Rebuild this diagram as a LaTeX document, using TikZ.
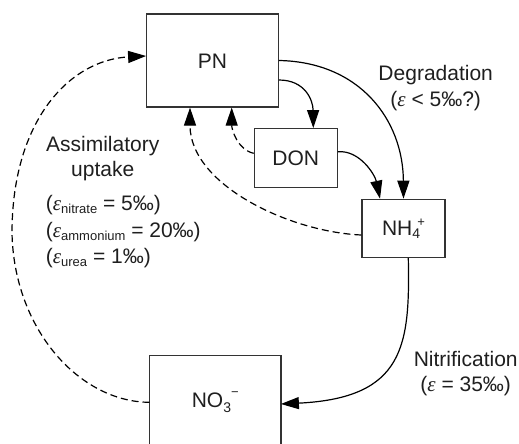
\documentclass[tikz,border=0pt]{standalone}
\usepackage{fontspec}
\setmainfont{Liberation Sans}
\newfontfamily\epsfam{Liberation Serif}
\usetikzlibrary{arrows.meta}
\newcommand\myeps{{\epsfam\itshape ε}}
\newcommand\subtxt[1]{\raisebox{-3.5pt}{\fontsize{13}{13}\selectfont #1}}
\begin{document}
\begin{tikzpicture}[x=1pt,y=-1pt,
  every node/.style={font=\fontsize{21}{25}\selectfont, text=black!88},
  box/.style={draw=black!80, line width=1.2pt, inner sep=0pt, text height=15pt, text depth=0pt},
  openbox/.style={inner sep=0pt, text height=15pt, text depth=0pt},
  boxline/.style={draw=black!80, line width=1.2pt},
  flow/.style={line width=1.2pt, -{Triangle[length=18pt,width=12pt]}},
  uptake/.style={flow, dash pattern=on 7pt off 4pt},
  lbl/.style={anchor=base, inner sep=0pt}]
\useasboundingbox (0,0) rectangle (519,444);
\clip (0,0) rectangle (519,444);
% boxes
\node[box, minimum width=131.6pt, minimum height=93pt] (PN) at (212.5,60.5) {PN};
\node[box, minimum width=83pt, minimum height=58.6pt] (DON) at (295.8,158) {DON};
\node[box, minimum width=83pt, minimum height=58pt] (NH4) at (403.5,228.3)
  {NH\rlap{\raisebox{-3pt}{\fontsize{14}{14}\selectfont 4}}\kern5pt\raisebox{9pt}{\fontsize{13}{13}\selectfont +}};
\node[openbox, minimum width=131pt, minimum height=87.6pt] (no3) at (215.2,399.8)
  {NO\raisebox{-5pt}{\fontsize{14}{14}\selectfont 3}\raisebox{11pt}{\fontsize{13}{13}\selectfont −}};
\draw[boxline] ([yshift=-40pt]no3.south west) -- (no3.north west) -- (no3.north east) -- ([yshift=-40pt]no3.south east);
% connectors
\draw[flow] (PN.east) .. controls (360,62) and (403,120) .. (NH4.north);
\draw[flow] ([yshift=-19.5pt]PN.east) .. controls (305,80) and (313,100) .. ([xshift=17.5pt]DON.north);
\draw[flow] ([yshift=6.3pt]DON.east) .. controls (360,150) and (375,175) .. ([xshift=-23.5pt]NH4.north);
\draw[uptake] ([yshift=4.7pt]DON.west) .. controls (238,150) and (231.7,130) .. ([xshift=19.2pt]PN.south);
\draw[uptake] ([yshift=-6.7pt]NH4.west) .. controls (290,232) and (190,185) .. ([xshift=-22.5pt]PN.south);
\draw[flow] ([xshift=4.8pt]NH4.south) .. controls (410,345) and (405,398) .. ([yshift=-4.2pt]no3.east);
\coordinate (far) at (12,233);
\draw[uptake] ([yshift=-2.5pt]no3.west) .. controls (80,402) and (14,330) .. (far) .. controls (12,120) and (70,60) .. ([yshift=4.5pt]PN.west);
% labels
\node[lbl] (deg1) at (435.7,81) {Degradation};
\node[lbl] (deg2) at (435.7,106) {(\myeps{} < 5‰?)};
\node[lbl] (as1) at (102.7,151.7) {Assimilatory};
\node[lbl] (as2) at (102.7,176) {uptake};
\node[lbl, anchor=base west] (e1) at (45.7,210) {(\myeps\subtxt{nitrate} = 5‰)};
\node[lbl, anchor=base west] (e2) at (45.7,237.3) {(\myeps\subtxt{ammonium} = 20‰)};
\node[lbl, anchor=base west] (e3) at (45.7,263.3) {(\myeps\subtxt{urea} = 1‰)};
\node[lbl] (nit1) at (465.7,366.7) {Nitrification};
\node[lbl] (nit2) at (465.7,391.7) {(\myeps{} = 35‰)};
\end{tikzpicture}
\end{document}
